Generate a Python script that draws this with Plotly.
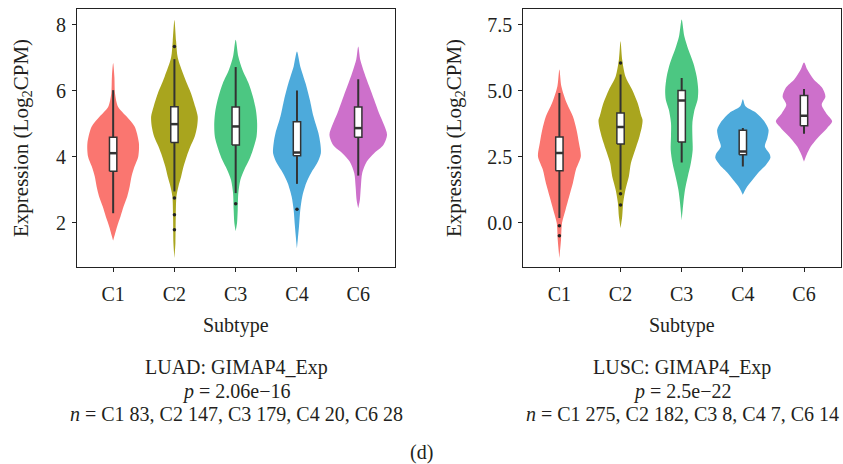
import plotly.graph_objects as go

# ---------------------------------------------------------------------------
# Data
# ---------------------------------------------------------------------------
subtypes = ["C1", "C2", "C3", "C4", "C6"]
colors = ["#FA7670", "#A9A51E", "#4CC782", "#4DAADB", "#CD70CB"]

# Violin outlines: (expression level, half-width in category units)
luad_profiles = [
    [(6.84, 0.0), (6.43, 0.02), (5.93, 0.03), (5.52, 0.08), (5.22, 0.22), (4.92, 0.35),
     (4.42, 0.42), (4.01, 0.41), (3.71, 0.35), (3.40, 0.30), (3.10, 0.27), (2.80, 0.23),
     (2.49, 0.17), (2.19, 0.12), (1.89, 0.065), (1.46, 0.0)],
    [(8.15, 0.0), (7.52, 0.027), (7.01, 0.054), (6.43, 0.16), (5.93, 0.27), (5.52, 0.34),
     (5.22, 0.38), (4.92, 0.37), (4.61, 0.33), (4.31, 0.26), (4.01, 0.20), (3.71, 0.15),
     (3.40, 0.11), (3.10, 0.065), (2.80, 0.033), (2.19, 0.022), (1.38, 0.016), (0.93, 0.0)],
    [(7.55, 0.0), (7.04, 0.043), (6.64, 0.11), (6.23, 0.21), (5.83, 0.28), (5.42, 0.33),
     (5.02, 0.35), (4.61, 0.34), (4.21, 0.28), (3.91, 0.22), (3.61, 0.14), (3.30, 0.076),
     (2.90, 0.043), (2.39, 0.033), (1.99, 0.022), (1.74, 0.0)],
    [(7.19, 0.0), (6.74, 0.054), (6.23, 0.14), (5.73, 0.21), (5.22, 0.27), (4.72, 0.35),
     (4.42, 0.38), (4.11, 0.39), (3.81, 0.33), (3.51, 0.23), (3.20, 0.15), (2.80, 0.087),
     (2.39, 0.054), (1.89, 0.033), (1.23, 0.0)],
    [(7.34, 0.0), (6.94, 0.033), (6.54, 0.10), (6.13, 0.18), (5.73, 0.26), (5.32, 0.34),
     (4.97, 0.42), (4.67, 0.47), (4.36, 0.41), (4.11, 0.26), (3.86, 0.14), (3.51, 0.065),
     (3.10, 0.043), (2.70, 0.027), (2.44, 0.0)],
]
lusc_profiles = [
    [(5.80, 0.0), (5.16, 0.033), (4.53, 0.12), (4.03, 0.22), (3.52, 0.28), (3.02, 0.32),
     (2.51, 0.35), (2.01, 0.27), (1.50, 0.22), (1.00, 0.16), (0.49, 0.10), (-0.01, 0.043),
     (-0.64, 0.027), (-1.34, 0.0)],
    [(6.87, 0.0), (6.17, 0.027), (5.54, 0.08), (5.04, 0.19), (4.53, 0.28), (4.03, 0.34),
     (3.90, 0.36), (3.65, 0.35), (3.27, 0.31), (2.77, 0.24), (2.26, 0.17), (1.75, 0.136),
     (1.25, 0.08), (0.75, 0.043), (0.24, 0.027), (-0.20, 0.0)],
    [(7.69, 0.0), (7.06, 0.043), (6.55, 0.11), (6.05, 0.19), (5.54, 0.245), (5.04, 0.27),
     (4.66, 0.26), (4.28, 0.21), (3.78, 0.175), (3.27, 0.175), (2.77, 0.18), (2.26, 0.15),
     (1.75, 0.10), (1.25, 0.054), (0.75, 0.027), (0.09, 0.0)],
    [(4.68, 0.0), (4.41, 0.043), (4.16, 0.22), (3.84, 0.35), (3.52, 0.42), (3.20, 0.40),
     (2.89, 0.36), (2.60, 0.44), (2.45, 0.45), (2.20, 0.38), (1.88, 0.245), (1.56, 0.136),
     (1.31, 0.054), (1.06, 0.0)],
    [(6.07, 0.0), (5.80, 0.054), (5.42, 0.16), (5.10, 0.30), (4.78, 0.35), (4.47, 0.29),
     (4.16, 0.36), (3.84, 0.46), (3.59, 0.38), (3.27, 0.245), (2.89, 0.11), (2.58, 0.043),
     (2.32, 0.0)],
]

# Box summaries per subtype
luad_lower = [2.29, 2.95, 2.90, 3.18, 3.43]
luad_q1 = [3.56, 4.43, 4.36, 4.03, 4.59]
luad_median = [4.11, 4.99, 4.92, 4.13, 4.87]
luad_q3 = [4.59, 5.52, 5.51, 5.06, 5.51]
luad_upper = [6.02, 6.96, 6.72, 6.01, 6.35]
luad_outliers = [[], [7.34, 2.75, 2.24, 1.79], [2.58], [2.41], []]

lusc_lower = [0.18, 1.25, 2.28, 2.13, 3.37]
lusc_q1 = [1.97, 2.98, 3.06, 2.58, 3.67]
lusc_median = [2.64, 3.63, 4.63, 2.70, 4.05]
lusc_q3 = [3.25, 4.16, 5.01, 3.50, 4.82]
lusc_upper = [4.91, 5.61, 5.48, 3.59, 5.06]
lusc_outliers = [[-0.11, -0.49], [6.05, 1.10, 0.68], [], [], []]

luad_ticks = [2, 4, 6, 8]
luad_ticktext = ["2", "4", "6", "8"]
lusc_ticks = [0.0, 2.5, 5.0, 7.5]
lusc_ticktext = ["0.0", "2.5", "5.0", "7.5"]

luad_caption = ["LUAD: GIMAP4_Exp", "<i>p</i> = 2.06e\u221216",
                "<i>n</i> = C1 83, C2 147, C3 179, C4 20, C6 28"]
lusc_caption = ["LUSC: GIMAP4_Exp", "<i>p</i> = 2.5e\u221222",
                "<i>n</i> = C1 275, C2 182, C3 8, C4 7, C6 14"]
panel_label = "(d)"

# ---------------------------------------------------------------------------
# Figure
# ---------------------------------------------------------------------------
FONT = "Liberation Serif"
FS = 20
TXT = "#231F20"
BOX_HALF = 0.06
EDGE = "#333333"

fig = go.Figure()


def add_panel(xref, yref, profiles, lower, q1, med, q3, upper, outliers):
    positions = list(range(len(subtypes)))
    # violins
    for i, prof in enumerate(profiles):
        ys = [p[0] for p in prof]
        hw = [p[1] for p in prof]
        xs = [i + w for w in hw] + [i - w for w in reversed(hw)]
        yy = ys + list(reversed(ys))
        fig.add_trace(go.Scatter(
            x=xs, y=yy, xaxis=xref, yaxis=yref, mode="lines",
            line=dict(width=0, shape="spline", smoothing=0.8),
            fill="toself", fillcolor=colors[i],
            hoverinfo="skip", showlegend=False))
    # box plots: whisker, box, median, outliers
    for i in positions:
        fig.add_trace(go.Scatter(
            x=[i, i], y=[lower[i], upper[i]], xaxis=xref, yaxis=yref, mode="lines",
            line=dict(color=EDGE, width=2), showlegend=False, hoverinfo="skip"))
        fig.add_trace(go.Scatter(
            x=[i - BOX_HALF, i + BOX_HALF, i + BOX_HALF, i - BOX_HALF, i - BOX_HALF],
            y=[q1[i], q1[i], q3[i], q3[i], q1[i]], xaxis=xref, yaxis=yref,
            mode="lines", fill="toself", fillcolor="white",
            line=dict(color=EDGE, width=1.5), showlegend=False, hoverinfo="skip"))
        fig.add_trace(go.Scatter(
            x=[i - BOX_HALF, i + BOX_HALF], y=[med[i], med[i]], xaxis=xref, yaxis=yref,
            mode="lines", line=dict(color=EDGE, width=2.5),
            showlegend=False, hoverinfo="skip"))
        if outliers[i]:
            fig.add_trace(go.Scatter(
                x=[i] * len(outliers[i]), y=outliers[i], xaxis=xref, yaxis=yref,
                mode="markers", marker=dict(color="#222222", size=3.5),
                showlegend=False, hoverinfo="skip"))


add_panel("x", "y", luad_profiles, luad_lower, luad_q1, luad_median,
          luad_q3, luad_upper, luad_outliers)
add_panel("x2", "y2", lusc_profiles, lusc_lower, lusc_q1, lusc_median,
          lusc_q3, lusc_upper, lusc_outliers)

W, H = 843, 464
left_px = (77, 395)
right_px = (523.3, 840.7)
top_px, bottom_px = 9, 267
ydom = [1 - bottom_px / H, 1 - top_px / H]

axis_common = dict(showline=True, linecolor="#222222", linewidth=1.2, mirror=True,
                   ticks="outside", ticklen=4, tickcolor="#222222", tickwidth=1.2,
                   showgrid=False, zeroline=False,
                   tickfont=dict(family=FONT, size=FS, color=TXT))

fig.update_layout(
    width=W, height=H, margin=dict(l=0, r=0, t=0, b=0),
    paper_bgcolor="white", plot_bgcolor="white", showlegend=False,
    xaxis=dict(domain=[left_px[0] / W, left_px[1] / W], range=[-0.59, 4.6],
               tickvals=list(range(5)), ticktext=subtypes, anchor="y",
               ticklabelstandoff=5, **axis_common),
    yaxis=dict(domain=ydom, range=[0.66, 8.48], tickvals=luad_ticks,
               ticktext=luad_ticktext, anchor="x", ticklabelstandoff=2, **axis_common),
    xaxis2=dict(domain=[right_px[0] / W, right_px[1] / W], range=[-0.59, 4.6],
                tickvals=list(range(5)), ticktext=subtypes, anchor="y2",
                ticklabelstandoff=5, **axis_common),
    yaxis2=dict(domain=ydom, range=[-1.67, 8.09], tickvals=lusc_ticks,
                ticktext=lusc_ticktext, anchor="x2", ticklabelstandoff=2, **axis_common),
)


def text(x, y, s, angle=0, size=FS):
    fig.add_annotation(x=x / W, y=1 - y / H, xref="paper", yref="paper", text=s,
                       showarrow=False, textangle=angle, xanchor="center",
                       yanchor="middle",
                       font=dict(family=FONT, size=size, color=TXT))


lc = (left_px[0] + left_px[1]) / 2
rc = (right_px[0] + right_px[1]) / 2
text(lc, 325, "Subtype")
text(rc, 325, "Subtype")
text(22, 138, "Expression (Log<sub>2</sub>CPM)", angle=-90, size=21)
text(455, 138, "Expression (Log<sub>2</sub>CPM)", angle=-90, size=21)
for k, yline in enumerate([367, 391, 414]):
    text(lc, yline, luad_caption[k])
    text(rc, yline, lusc_caption[k])
text(W / 2, 452, panel_label)

fig.write_html("out.html")
